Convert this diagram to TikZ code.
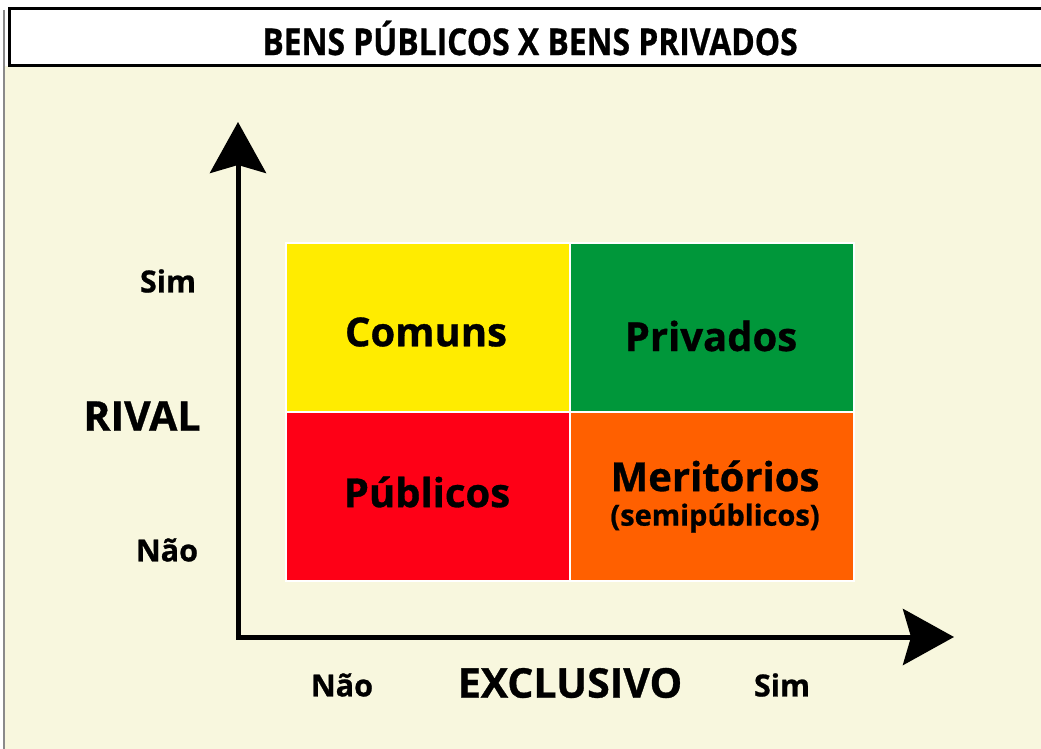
\documentclass[tikz,border=0pt]{standalone}
\usepackage{fontspec}
\setmainfont{Open Sans}
\newfontfamily\heavyfont{Open Sans Bold}[FakeBold=0.8]
\usetikzlibrary{arrows.meta}
\definecolor{cream}{HTML}{F8F7DE}
\definecolor{qyellow}{HTML}{FFEC00}
\definecolor{qgreen}{HTML}{00973A}
\definecolor{qred}{HTML}{FE0016}
\definecolor{qorange}{HTML}{FF6000}
\definecolor{edgegray}{HTML}{8A8A8A}
\begin{document}
\begin{tikzpicture}[x=1pt,y=-1pt,
  >={Stealth[length=51pt,width=56pt,inset=8pt]},
  quad/.style={draw=white,line width=2pt,minimum width=284pt,minimum height=169pt,inner sep=0pt,anchor=north west},
  qtext/.style={inner sep=0pt,font=\heavyfont\fontsize{40}{44}\selectfont},
  lab/.style={inner sep=0pt,font=\heavyfont\fontsize{30.5}{34}\selectfont},
  big/.style={inner sep=0pt,font=\heavyfont\fontsize{41}{44}\selectfont}]
\useasboundingbox (0,0) rectangle (1041,749);
\fill[white] (0,0) rectangle (1041,749);
\fill[cream] (4,66) rectangle (1041,749);
\draw[edgegray,line width=2pt] (4,10) -- (4,749);
\fill[white] (9,9) rectangle (1041,66);
\draw[line width=3pt] (1045,9) -- (9,9) -- (9,66) -- (1045,66);
\node[inner sep=0pt,font=\heavyfont\fontsize{37}{40}\selectfont] (title) at (530,38) {\scalebox{0.86}[1]{BENS PÚBLICOS X BENS PRIVADOS}};
% quadrants
\node[quad,fill=qyellow] (comuns) at (285,242) {};
\node[quad,fill=qgreen] (privados) at (569,242) {};
\node[quad,fill=qred] (publicos) at (285,411) {};
\node[quad,fill=qorange] (meritorios) at (569,411) {};
\node[qtext] (tcomuns) at (426,332) {Comuns};
\node[qtext] (tprivados) at (711,336) {Privados};
\node[qtext] (tpublicos) at (427,492) {Públicos};
\node[qtext] (tmerit) at (715,476) {Meritórios};
\node[inner sep=0pt,font=\heavyfont\fontsize{29}{32}\selectfont] (tsemi) at (715,518) {(semipúblicos)};
% axes
\coordinate (ytip) at (238,122);
\coordinate (origin) at (238,637);
\coordinate (xtip) at (954,637);
\draw[line width=5pt,miter limit=10,<->] (ytip) -- (origin) -- (xtip);
% labels
\node[lab] (ysim) at (168,281) {Sim};
\node[big] (rival) at (142,416) {RIVAL};
\node[lab] (ynao) at (167,550) {Não};
\node[lab] (xnao) at (342,685) {Não};
\node[big] (excl) at (570,683) {EXCLUSIVO};
\node[lab] (xsim) at (782,685) {Sim};
\end{tikzpicture}
\end{document}
